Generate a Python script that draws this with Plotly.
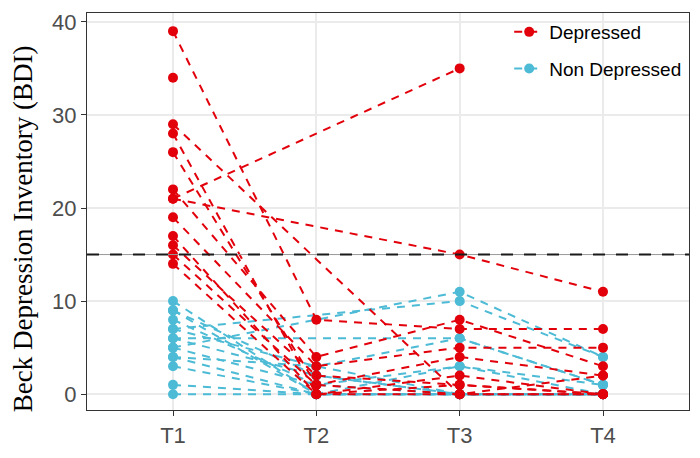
import plotly.graph_objects as go

times = ["T1", "T2", "T3", "T4"]

# Depressed subjects (BDI at T1..T4; None = missing)
dep_subjects = [
    [39, 8, 7, 7],
    [34, None, None, None],
    [29, None, 0, 0],
    [28, 0, 1, 0],
    [26, 1, 4, 2],
    [22, 4, 8, 3],
    [21, None, 35, None],
    [21, None, 15, 11],
    [19, 3, 5, 5],
    [17, 0, 2, 0],
    [16, 2, 1, 0],
    [15, 1, 0, 2],
    [14, 0, 0, 0],
]

# Non depressed subjects
nondep_subjects = [
    [10, 0, 0, 0],
    [9, 2, 0, 0],
    [8, 1, 3, 1],
    [7, None, 10, 4],
    [7, 3, 0, 0],
    [6, None, 6, 1],
    [6, 2, 0, 0],
    [5, None, 11, 4],
    [5, 1, 0, 0],
    [4, 0, 0, 0],
    [4, 3, 6, 1],
    [3, 0, 0, 0],
    [1, 0, 0, 0],
    [0, 0, 0, 0],
    [9, 0, 3, 0],
]

cutoff = 15
red = "#E2000B"
blue = "#4DBBD5"
y_title = "Beck Depression Inventory (BDI)"

fig = go.Figure()


def add_group(subjects, color, name, rank):
    for i, vals in enumerate(subjects):
        xs = [t for t, v in zip(times, vals) if v is not None]
        ys = [v for v in vals if v is not None]
        fig.add_trace(go.Scatter(
            x=xs, y=ys, mode="lines+markers",
            line=dict(color=color, width=2, dash="8px,7px"),
            marker=dict(color=color, size=10),
            name=name, legendgroup=name, showlegend=(i == 0),
            legendrank=rank,
        ))


add_group(nondep_subjects, blue, "Non Depressed", 2)
add_group(dep_subjects, red, "Depressed", 1)

fig.add_hline(y=cutoff, line=dict(color="#999999", width=1), layer="above")
fig.add_hline(y=cutoff, line=dict(color="#1a1a1a", width=2, dash="12px,11px"), layer="above")

fig.add_annotation(
    text=y_title, xref="paper", yref="paper", x=-0.106, y=0.456,
    xanchor="center", yanchor="middle", textangle=-90, showarrow=False,
    font=dict(family="Liberation Serif, Times New Roman, serif", size=27, color="#000000"),
)

fig.update_layout(
    width=700, height=458,
    margin=dict(l=87, r=10, t=10, b=47),
    paper_bgcolor="white", plot_bgcolor="white",
    font=dict(family="Liberation Sans, Arial, sans-serif"),
    showlegend=True,
    legend=dict(
        x=0.997, y=1.0, xanchor="right", yanchor="top",
        bgcolor="rgba(0,0,0,0)",
        font=dict(size=19, color="#000000", family="Liberation Sans, Arial, sans-serif"),
        tracegroupgap=9, itemwidth=30,
    ),
)

fig.update_xaxes(
    type="category", categoryorder="array", categoryarray=times,
    range=[-0.6, 3.6],
    showgrid=True, gridcolor="#EBEBEB", gridwidth=1.5,
    showline=True, linecolor="#333333", linewidth=1.3, mirror=True,
    ticks="outside", ticklen=5, tickcolor="#333333", tickwidth=1.3,
    tickfont=dict(size=22, color="#4D4D4D"),
    zeroline=False,
)
fig.update_yaxes(
    range=[-1.7, 40.95], tickvals=[0, 10, 20, 30, 40],
    showgrid=True, gridcolor="#EBEBEB", gridwidth=1.5,
    showline=True, linecolor="#333333", linewidth=1.3, mirror=True,
    ticks="outside", ticklen=5, tickcolor="#333333", tickwidth=1.3,
    tickfont=dict(size=22, color="#4D4D4D"),
    zeroline=False,
)

fig.write_html("out.html")
